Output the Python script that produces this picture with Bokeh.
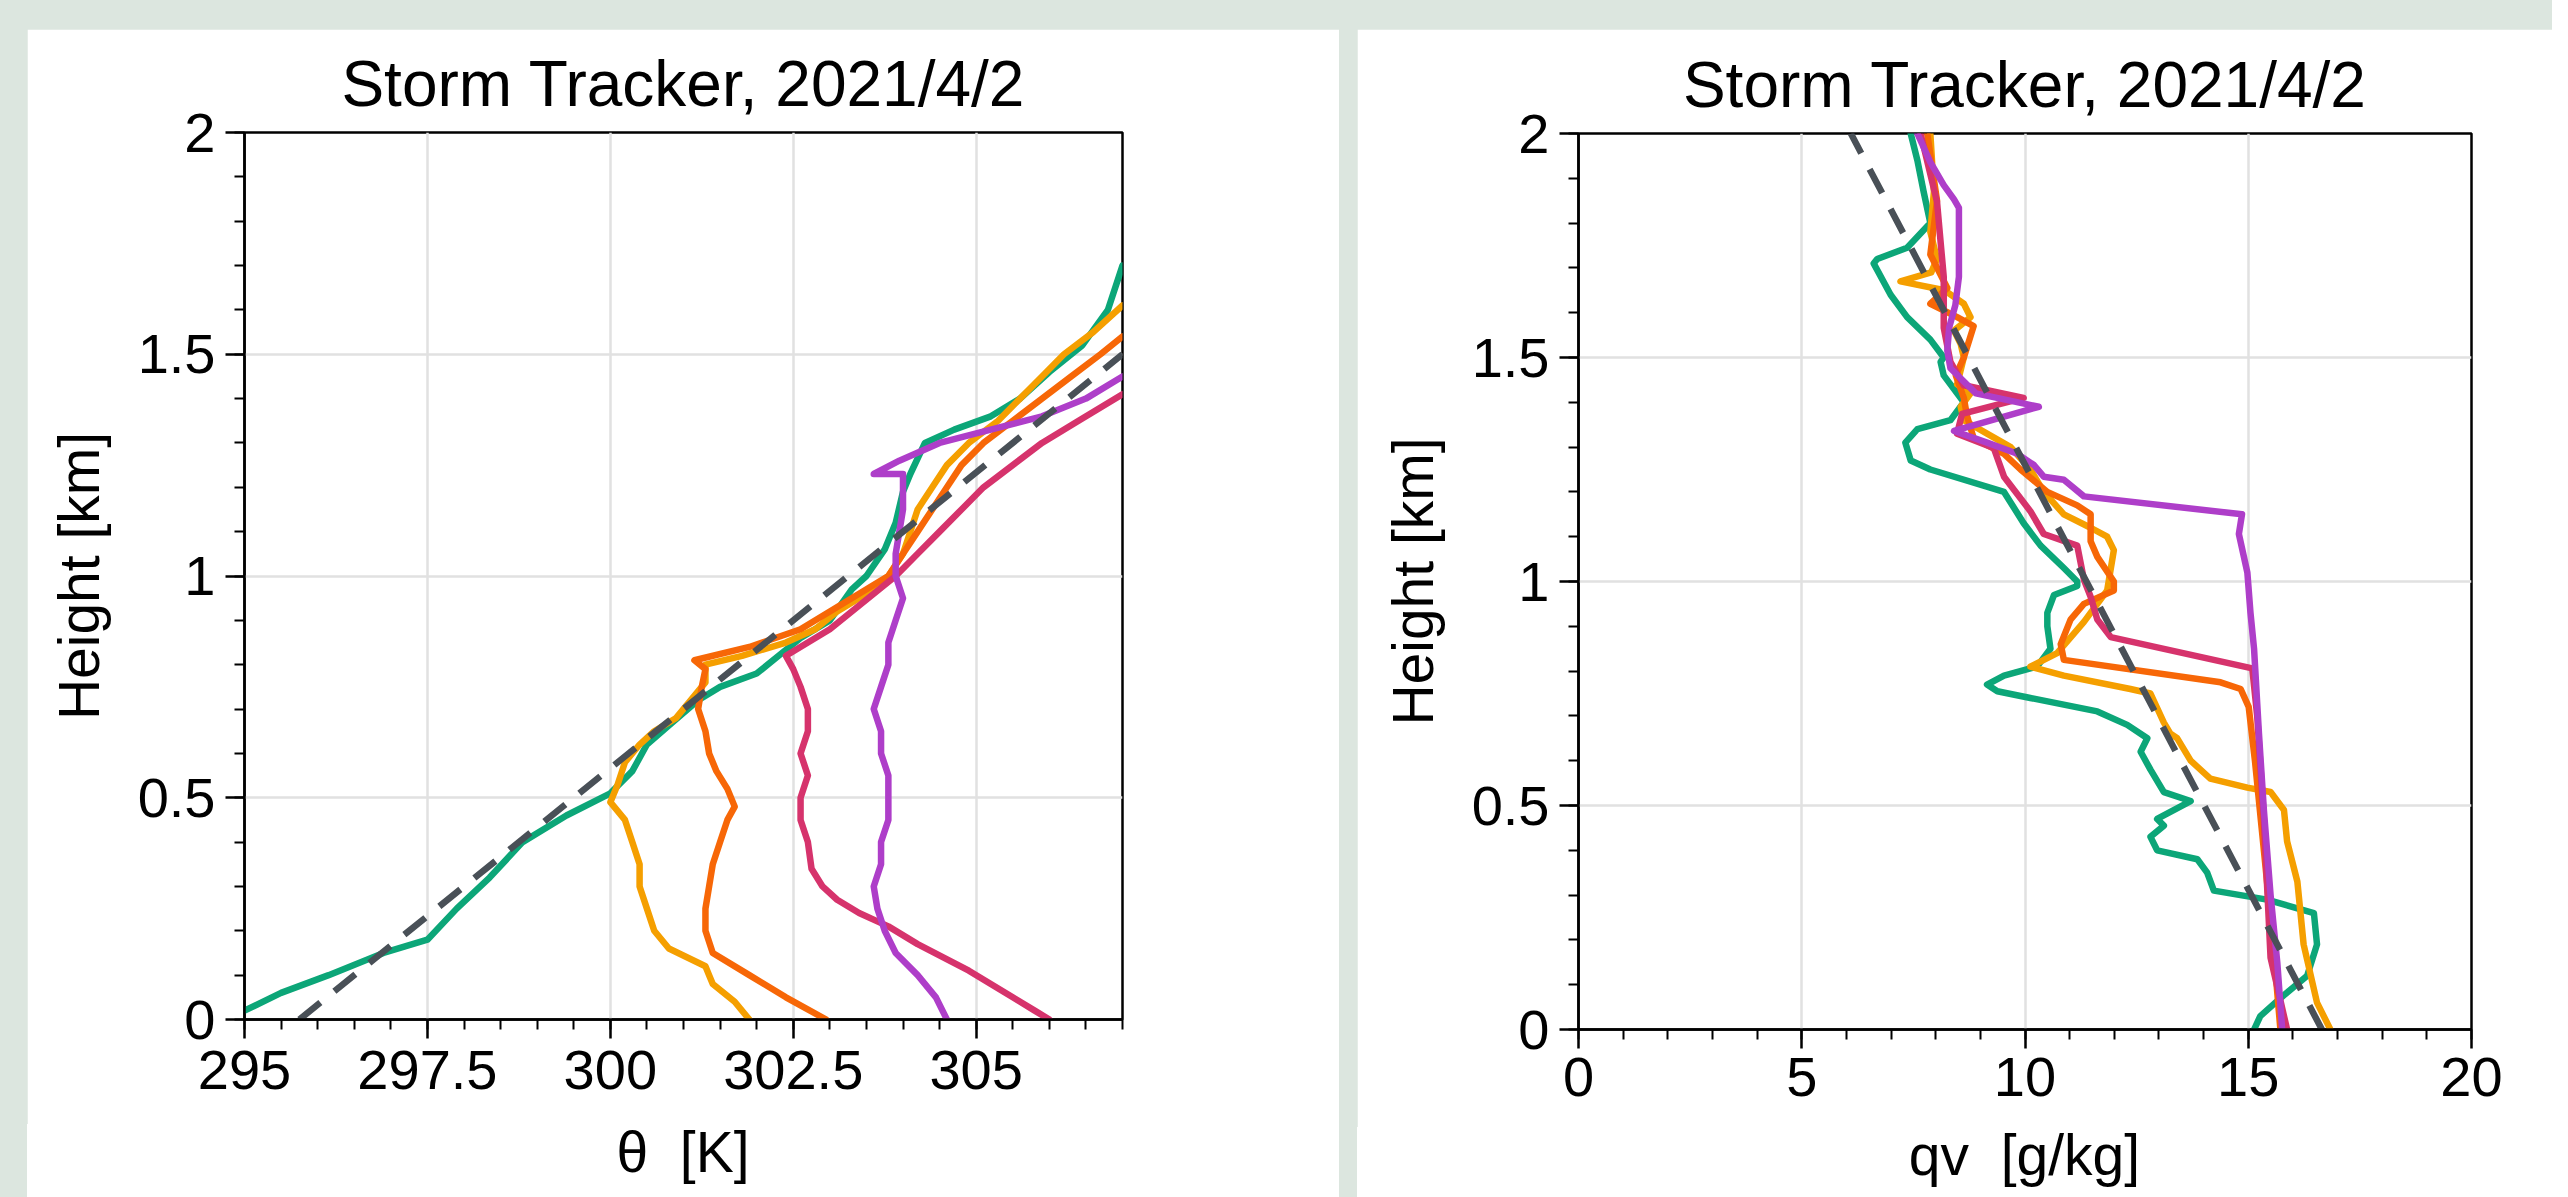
from bokeh.plotting import figure
from bokeh.layouts import row, column
from bokeh.models import Spacer, Range1d, FixedTicker, Div
from bokeh.embed import file_html
from bokeh.resources import INLINE

# ---------------- data : potential temperature panel ----------------
th_teal_z = [0.02,0.06,0.10,0.15,0.18,0.25,0.32,0.40,0.46,0.51,0.56,0.62,0.67,0.72,0.75,0.78,0.82,0.86,0.90,0.97,1.00,1.06,1.12,1.19,1.23,1.30,1.33,1.36,1.40,1.46,1.52,1.60,1.70]
th_teal   = [295.0,295.5,296.15,296.9,297.5,297.9,298.35,298.8,299.4,300.0,300.3,300.5,300.85,301.2,301.5,302.0,302.3,302.6,303.0,303.3,303.5,303.75,303.9,304.0,304.1,304.3,304.7,305.2,305.6,306.0,306.45,306.8,307.0]

th_yel_z = [0.00,0.04,0.08,0.10,0.12,0.16,0.20,0.25,0.30,0.35,0.40,0.45,0.49,0.53,0.58,0.62,0.65,0.68,0.72,0.76,0.80,0.82,0.85,0.88,0.92,0.96,1.00,1.05,1.10,1.15,1.20,1.25,1.30,1.35,1.40,1.45,1.50,1.55,1.61]
th_yel   = [301.9,301.7,301.4,301.35,301.3,300.8,300.6,300.5,300.4,300.4,300.3,300.2,300.0,300.1,300.2,300.4,300.6,300.9,301.1,301.3,301.3,301.8,302.4,302.8,303.1,303.5,303.8,304.0,304.1,304.2,304.4,304.6,304.9,305.3,305.6,305.9,306.2,306.6,307.0]

th_org_z = [0.00,0.05,0.10,0.15,0.20,0.25,0.30,0.35,0.40,0.45,0.48,0.52,0.56,0.60,0.65,0.70,0.75,0.79,0.81,0.84,0.88,0.92,0.96,1.00,1.05,1.10,1.15,1.20,1.25,1.30,1.35,1.40,1.45,1.50,1.54]
th_org   = [302.95,302.4,301.9,301.4,301.3,301.3,301.35,301.4,301.5,301.6,301.7,301.6,301.45,301.35,301.3,301.2,301.25,301.3,301.15,301.9,302.6,303.0,303.4,303.8,304.0,304.2,304.4,304.6,304.8,305.1,305.5,305.9,306.3,306.7,307.0]

th_pink_z = [0.00,0.02,0.05,0.08,0.11,0.14,0.17,0.21,0.24,0.27,0.30,0.34,0.40,0.45,0.50,0.55,0.60,0.65,0.70,0.75,0.79,0.82,0.85,0.88,0.92,0.96,1.00,1.05,1.10,1.15,1.20,1.25,1.30,1.35,1.41]
th_pink   = [306.0,305.8,305.5,305.2,304.9,304.55,304.2,303.8,303.4,303.1,302.9,302.75,302.7,302.6,302.6,302.7,302.6,302.7,302.7,302.6,302.5,302.4,302.7,303.0,303.3,303.6,303.9,304.2,304.5,304.8,305.1,305.5,305.9,306.4,307.0]

th_grape_z = [0.00,0.05,0.10,0.15,0.20,0.25,0.30,0.35,0.40,0.45,0.50,0.55,0.60,0.65,0.70,0.75,0.80,0.85,0.90,0.95,1.00,1.05,1.10,1.15,1.20,1.23,1.23,1.26,1.30,1.33,1.36,1.40,1.45]
th_grape   = [304.6,304.45,304.2,303.9,303.75,303.65,303.6,303.7,303.7,303.8,303.8,303.8,303.7,303.7,303.6,303.7,303.8,303.8,303.9,304.0,303.9,303.9,303.95,304.0,304.0,304.0,303.6,303.95,304.5,305.2,305.9,306.5,307.0]

th_ref_z = [0.0, 1.50]
th_ref   = [295.75, 307.0]

# ---------------- data : water vapour panel ----------------
qv_teal_z = [0.00,0.03,0.07,0.12,0.19,0.26,0.29,0.31,0.35,0.38,0.40,0.43,0.455,0.47,0.51,0.53,0.58,0.62,0.65,0.68,0.71,0.74,0.755,0.77,0.79,0.81,0.85,0.90,0.93,0.97,0.99,1.00,1.03,1.08,1.13,1.20,1.25,1.27,1.31,1.34,1.36,1.40,1.46,1.49,1.50,1.54,1.59,1.64,1.71,1.72,1.745,1.80,1.87,1.94,2.00]
qv_teal   = [15.13,15.27,15.72,16.32,16.54,16.47,15.42,14.23,14.08,13.86,12.96,12.81,13.11,12.96,13.71,13.11,12.81,12.59,12.74,12.29,11.62,10.12,9.38,9.15,9.53,10.27,10.57,10.5,10.5,10.65,11.17,11.17,10.87,10.35,9.97,9.53,7.88,7.44,7.32,7.59,8.33,8.63,8.18,8.11,8.18,7.88,7.36,6.99,6.61,6.69,7.36,7.88,7.73,7.59,7.44]

qv_yel_z = [0.00,0.06,0.19,0.33,0.42,0.49,0.53,0.54,0.56,0.60,0.65,0.66,0.685,0.75,0.76,0.79,0.81,0.84,0.91,0.98,1.07,1.10,1.12,1.15,1.20,1.25,1.30,1.33,1.36,1.39,1.42,1.44,1.50,1.53,1.56,1.59,1.62,1.65,1.67,1.69,1.72,1.78,1.87,2.00]
qv_yel   = [16.84,16.54,16.24,16.1,15.87,15.8,15.5,14.98,14.15,13.71,13.41,13.26,13.11,12.81,12.36,10.87,10.12,10.72,11.32,11.84,11.99,11.84,11.47,10.87,10.42,10.12,9.68,9.15,8.63,8.56,8.78,8.48,8.63,8.56,8.41,8.78,8.63,8.2,7.21,7.9,8.03,7.88,7.96,7.88]

qv_org_z = [0.00,0.20,0.45,0.60,0.72,0.76,0.775,0.825,0.86,0.915,0.95,0.98,1.00,1.055,1.09,1.15,1.17,1.20,1.25,1.285,1.32,1.37,1.41,1.46,1.50,1.57,1.59,1.62,1.655,1.73,1.85,2.00]
qv_org   = [15.72,15.55,15.3,15.15,15.01,14.83,14.38,10.87,10.8,11.02,11.32,11.99,11.99,11.62,11.47,11.47,11.17,10.5,9.9,9.53,8.85,8.7,8.63,8.45,8.63,8.85,8.48,7.88,8.26,7.88,8.03,7.81]

qv_pink_z = [0.00,0.16,0.47,0.70,0.806,0.876,0.915,0.966,1.004,1.08,1.106,1.157,1.234,1.298,1.33,1.374,1.41,1.438,1.49,1.566,1.68,1.847,2.00]
qv_pink   = [15.87,15.5,15.35,15.2,15.09,11.92,11.62,11.47,11.32,11.17,10.42,10.12,9.53,9.3,8.48,8.59,9.97,8.63,8.33,8.18,8.18,8.03,7.66]

qv_grape_z = [0.00,0.15,0.30,0.49,0.66,0.85,0.93,1.02,1.106,1.15,1.19,1.227,1.234,1.26,1.285,1.31,1.336,1.39,1.42,1.476,1.515,1.566,1.617,1.68,1.77,1.834,1.853,1.885,1.936,2.00]
qv_grape   = [15.76,15.65,15.5,15.35,15.24,15.13,15.05,14.98,14.79,14.86,11.32,10.87,10.42,10.2,9.83,9.15,8.41,10.31,8.9,8.33,8.26,8.3,8.44,8.52,8.52,8.52,8.41,8.18,7.88,7.59]

qv_ref_z = [0.0, 2.0]
qv_ref   = [16.65, 6.1]

# ---------------- axes ----------------
title_text = "Storm Tracker, 2021/4/2"
y_label = "Height [km]"
th_label = "θ  [K]"
qv_label = "qv  [g/kg]"
y_ticks = [0, 0.5, 1, 1.5, 2]
y_tick_labels = {0: "0", 0.5: "0.5", 1: "1", 1.5: "1.5", 2: "2"}
th_ticks = [295, 297.5, 300, 302.5, 305]
th_tick_labels = {295: "295", 297.5: "297.5", 300: "300", 302.5: "302.5", 305: "305"}
qv_ticks = [0, 5, 10, 15, 20]

BG = "#dce6df"
FONT = "Liberation Sans"
COLORS = ["#0ca678", "#f59f00", "#f76707", "#d6336c", "#ae3ec9"]
DASH_COLOR = "#495057"


def make_fig(w, h, xr, xticks, xminor, xover, ml, mr, mt, mb, xstand):
    p = figure(width=w, height=h, x_range=Range1d(*xr), y_range=Range1d(0, 2),
               output_backend="svg", toolbar_location=None,
               min_border_left=ml, min_border_right=mr,
               min_border_top=mt, min_border_bottom=mb,
               border_fill_color="white", background_fill_color="white")
    p.title.text = title_text
    p.title.align = "center"
    p.title.text_font = FONT
    p.title.text_font_size = "64px"
    p.title.text_font_style = "normal"
    p.title.text_color = "black"
    p.title.standoff = 26
    p.outline_line_color = "black"
    p.outline_line_width = 2.5
    p.outline_line_alpha = 1.0

    p.xaxis.ticker = FixedTicker(ticks=xticks, minor_ticks=xminor)
    p.yaxis.ticker = FixedTicker(ticks=y_ticks, minor_ticks=[round(0.1 * i, 1) for i in range(21)])
    p.yaxis.major_label_overrides = y_tick_labels
    if xover:
        p.xaxis.major_label_overrides = xover
    p.yaxis.axis_label = y_label
    for ax in (p.xaxis[0], p.yaxis[0]):
        ax.axis_line_color = "black"
        ax.axis_line_width = 2.5
        ax.major_tick_out = 19
        ax.major_tick_in = 0
        ax.major_tick_line_width = 2.5
        ax.major_tick_line_color = "black"
        ax.minor_tick_out = 10
        ax.minor_tick_in = 0
        ax.minor_tick_line_width = 2
        ax.minor_tick_line_color = "black"
        ax.major_label_text_font = FONT
        ax.major_label_text_font_size = "56px"
        ax.major_label_text_color = "black"
        ax.axis_label_text_font = FONT
        ax.axis_label_text_font_size = "57px"
        ax.axis_label_text_font_style = "normal"
        ax.axis_label_text_color = "black"
    p.xaxis.major_label_standoff = xstand
    p.yaxis.major_label_standoff = 10
    p.yaxis.axis_label_standoff = 24
    for g in (p.xgrid[0], p.ygrid[0]):
        g.grid_line_color = "#e1e1e1"
        g.grid_line_width = 2.5
    return p


def axis_title(text, w, h):
    return Div(text=text, width=w, height=h, margin=(0, 0, 0, 0),
               styles={"font-family": FONT, "font-size": "57px", "line-height": "57px",
                       "text-align": "center", "color": "black",
                       "background-color": "white", "white-space": "pre"})


def bg_strip(w, h):
    # background strip; its shadow continues the strip to the window's bottom edge
    return Spacer(width=w, height=h,
                  styles={"background-color": BG, "box-shadow": f"0 16px 0 0 {BG}"})


# left panel: frame x 244..1122, y 132..1019 ; right panel: frame x 1578..2471, y 133..1029
p1 = make_fig(1312, 1095, (295, 307), th_ticks, [295 + 0.5 * i for i in range(25)],
              th_tick_labels, 217, 217, 103, 105, 12)
p2 = make_fig(1195, 1098, (0, 20), qv_ticks, list(range(21)),
              None, 221, 81, 104, 98, 9)

LW = 6.5
DASH = "27 18"
for xs, zs, c in zip([th_teal, th_yel, th_org, th_pink, th_grape],
                     [th_teal_z, th_yel_z, th_org_z, th_pink_z, th_grape_z], COLORS):
    p1.line(xs, zs, line_color=c, line_width=LW, line_join="round", line_cap="round")
p1.line(th_ref, th_ref_z, line_color=DASH_COLOR, line_width=LW, line_dash=DASH)

for xs, zs, c in zip([qv_teal, qv_yel, qv_org, qv_pink, qv_grape],
                     [qv_teal_z, qv_yel_z, qv_org_z, qv_pink_z, qv_grape_z], COLORS):
    p2.line(xs, zs, line_color=c, line_width=LW, line_join="round", line_cap="round")
p2.line(qv_ref, qv_ref_z, line_color=DASH_COLOR, line_width=LW, line_dash=DASH)

left_panel = column(p1, axis_title(th_label, 1312, 57))
right_panel = column(p2, row(Spacer(width=140, height=54, styles={"background-color": "white"}),
                             axis_title(qv_label, 1055, 54)))

layout = column(
    Spacer(width=2552, height=29),
    row(bg_strip(27, 1152), left_panel, bg_strip(18, 1152), right_panel,
        styles={"background-color": BG}),
    styles={"background-color": BG},
)

open("out.html", "w").write(file_html(layout, INLINE))
